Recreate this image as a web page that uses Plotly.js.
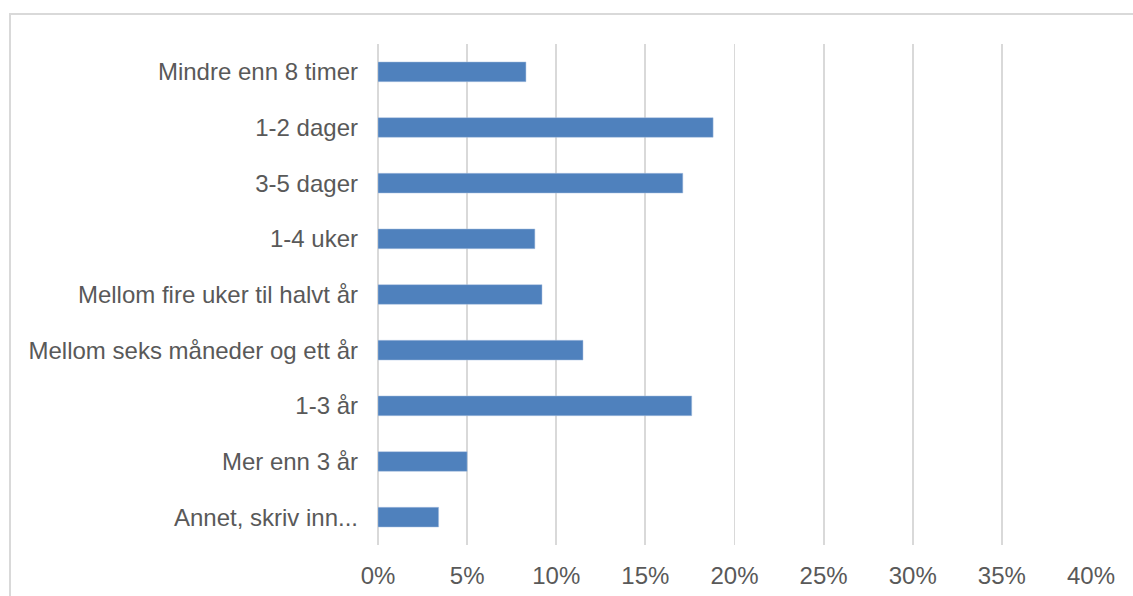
<!DOCTYPE html>
<html>
<head>
<meta charset="utf-8">
<script src="https://cdn.plot.ly/plotly-3.0.1.min.js"></script>
<style>
html,body{margin:0;padding:0;background:#fff;}
#chart{width:1133px;height:596px;}
</style>
</head>
<body>
<div id="chart"></div>
<script>
const categories = [
  "Mindre enn 8 timer",
  "1-2 dager",
  "3-5 dager",
  "1-4 uker",
  "Mellom fire uker til halvt år",
  "Mellom seks måneder og ett år",
  "1-3 år",
  "Mer enn 3 år",
  "Annet, skriv inn..."
];
const shares = [0.083, 0.188, 0.171, 0.088, 0.092, 0.115, 0.176, 0.050, 0.034];
const tickValues = [0, 0.05, 0.10, 0.15, 0.20, 0.25, 0.30, 0.35, 0.40];
const tickLabels = ["0%", "5%", "10%", "15%", "20%", "25%", "30%", "35%", "40%"];

const trace = {
  type: 'bar',
  orientation: 'h',
  x: shares,
  y: categories,
  marker: {color: '#4F81BD', line: {color: '#A9C1E0', width: 0.5}},
  hoverinfo: 'x+y'
};

const layout = {
  width: 1133,
  height: 596,
  margin: {l: 378, r: 42, t: 44, b: 51},
  paper_bgcolor: '#ffffff',
  plot_bgcolor: '#ffffff',
  showlegend: false,
  bargap: 0.646,
  font: {family: 'Liberation Sans, Arial, sans-serif', size: 24, color: '#595959'},
  xaxis: {
    range: [0, 0.4],
    tickvals: tickValues,
    ticktext: tickLabels,
    showgrid: true,
    gridcolor: '#D9D9D9',
    gridwidth: 1.8,
    zeroline: true,
    zerolinecolor: '#D9D9D9',
    zerolinewidth: 1.8,
    showline: false,
    ticks: '',
    ticklabelstandoff: 14,
    tickfont: {size: 24, color: '#595959'},
    fixedrange: true
  },
  yaxis: {
    type: 'category',
    autorange: 'reversed',
    showgrid: false,
    zeroline: false,
    showline: false,
    ticks: '',
    ticklabelstandoff: 19,
    tickfont: {size: 24, color: '#595959'},
    fixedrange: true
  },
  shapes: [{
    type: 'rect',
    xref: 'paper', yref: 'paper',
    x0: (10 - 378) / 713, x1: 1.2,
    y0: -0.3, y1: 1 + 30 / 501,
    line: {color: '#D9D9D9', width: 2},
    fillcolor: 'rgba(0,0,0,0)',
    layer: 'below'
  }]
};

Plotly.newPlot('chart', [trace], layout, {displayModeBar: false, staticPlot: true});
</script>
</body>
</html>
